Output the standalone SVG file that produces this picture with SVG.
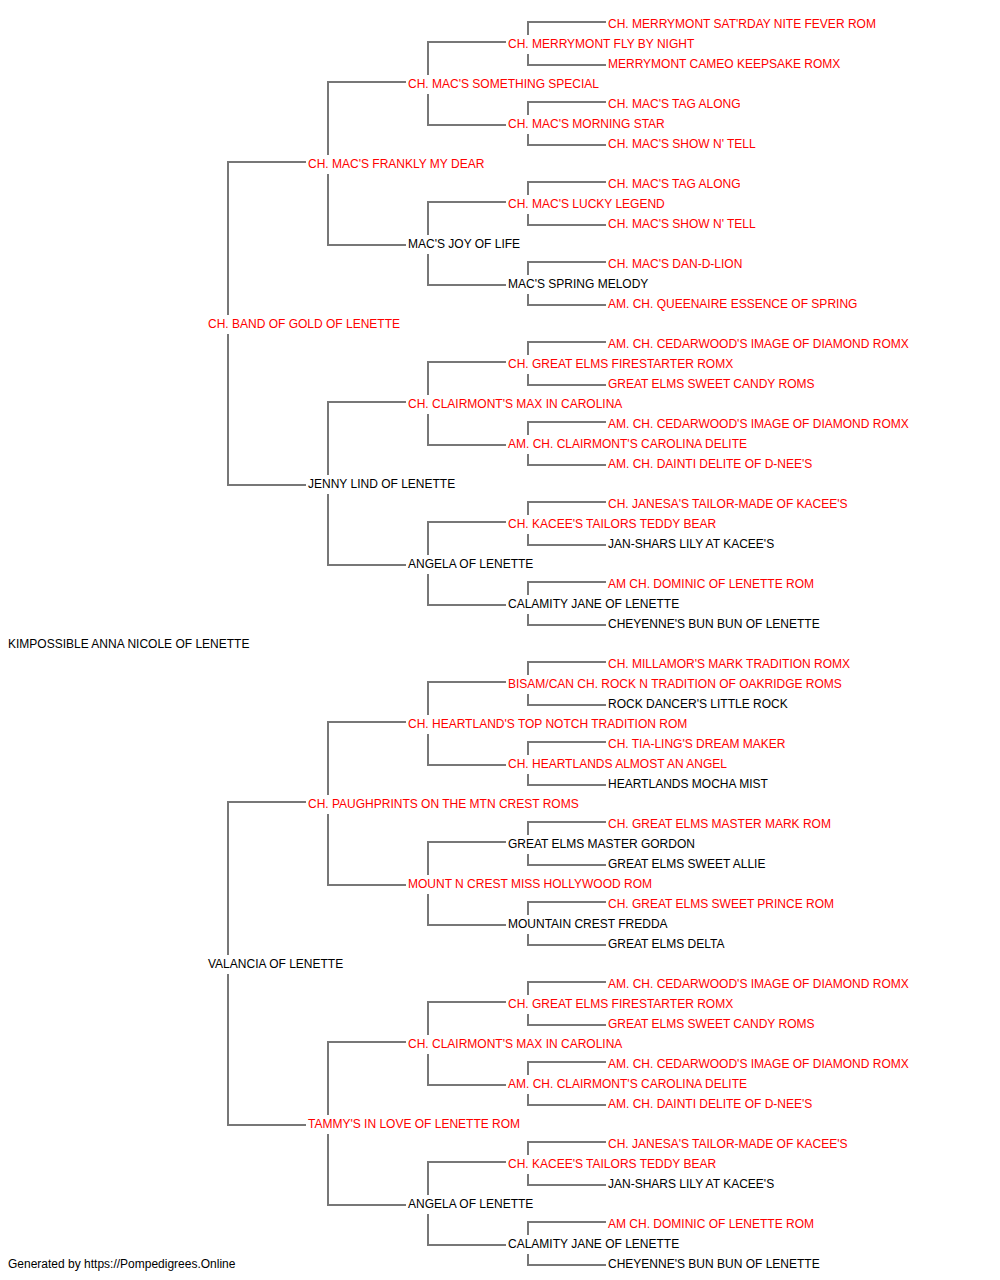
<svg xmlns="http://www.w3.org/2000/svg" width="1000" height="1280" viewBox="0 0 1000 1280">
<style>
text{font-family:"Liberation Sans",Arial,sans-serif;font-size:12px;fill:#000}
text.r{fill:#ff0000}
#connectors path{fill:none;stroke:#777;stroke-width:2}
</style>
<rect width="1000" height="1280" fill="#fff"/>
<g id="connectors">
<path d="M306,162 H228 V315 M228,334 V485 H306"/>
<path d="M306,802 H228 V955 M228,974 V1125 H306"/>
<path d="M406,82 H328 V155 M328,174 V245 H406"/>
<path d="M406,402 H328 V475 M328,494 V565 H406"/>
<path d="M406,722 H328 V795 M328,814 V885 H406"/>
<path d="M406,1042 H328 V1115 M328,1134 V1205 H406"/>
<path d="M506,42 H428 V75 M428,94 V125 H506"/>
<path d="M506,202 H428 V235 M428,254 V285 H506"/>
<path d="M506,362 H428 V395 M428,414 V445 H506"/>
<path d="M506,522 H428 V555 M428,574 V605 H506"/>
<path d="M506,682 H428 V715 M428,734 V765 H506"/>
<path d="M506,842 H428 V875 M428,894 V925 H506"/>
<path d="M506,1002 H428 V1035 M428,1054 V1085 H506"/>
<path d="M506,1162 H428 V1195 M428,1214 V1245 H506"/>
<path d="M606,22 H528 V35 M528,54 V65 H606"/>
<path d="M606,102 H528 V115 M528,134 V145 H606"/>
<path d="M606,182 H528 V195 M528,214 V225 H606"/>
<path d="M606,262 H528 V275 M528,294 V305 H606"/>
<path d="M606,342 H528 V355 M528,374 V385 H606"/>
<path d="M606,422 H528 V435 M528,454 V465 H606"/>
<path d="M606,502 H528 V515 M528,534 V545 H606"/>
<path d="M606,582 H528 V595 M528,614 V625 H606"/>
<path d="M606,662 H528 V675 M528,694 V705 H606"/>
<path d="M606,742 H528 V755 M528,774 V785 H606"/>
<path d="M606,822 H528 V835 M528,854 V865 H606"/>
<path d="M606,902 H528 V915 M528,934 V945 H606"/>
<path d="M606,982 H528 V995 M528,1014 V1025 H606"/>
<path d="M606,1062 H528 V1075 M528,1094 V1105 H606"/>
<path d="M606,1142 H528 V1155 M528,1174 V1185 H606"/>
<path d="M606,1222 H528 V1235 M528,1254 V1265 H606"/>
</g>
<g id="n0"><text x="8" y="648">KIMPOSSIBLE ANNA NICOLE OF LENETTE</text></g>
<g id="n1"><text class="r" x="208" y="328">CH. BAND OF GOLD OF LENETTE</text></g>
<g id="n2"><text x="208" y="968">VALANCIA OF LENETTE</text></g>
<g id="n3"><text class="r" x="308" y="168">CH. MAC'S FRANKLY MY DEAR</text></g>
<g id="n4"><text x="308" y="488">JENNY LIND OF LENETTE</text></g>
<g id="n5"><text class="r" x="308" y="808">CH. PAUGHPRINTS ON THE MTN CREST ROMS</text></g>
<g id="n6"><text class="r" x="308" y="1128">TAMMY'S IN LOVE OF LENETTE ROM</text></g>
<g id="n7"><text class="r" x="408" y="88">CH. MAC'S SOMETHING SPECIAL</text></g>
<g id="n8"><text x="408" y="248">MAC'S JOY OF LIFE</text></g>
<g id="n9"><text class="r" x="408" y="408">CH. CLAIRMONT'S MAX IN CAROLINA</text></g>
<g id="n10"><text x="408" y="568">ANGELA OF LENETTE</text></g>
<g id="n11"><text class="r" x="408" y="728">CH. HEARTLAND'S TOP NOTCH TRADITION ROM</text></g>
<g id="n12"><text class="r" x="408" y="888">MOUNT N CREST MISS HOLLYWOOD ROM</text></g>
<g id="n13"><text class="r" x="408" y="1048">CH. CLAIRMONT'S MAX IN CAROLINA</text></g>
<g id="n14"><text x="408" y="1208">ANGELA OF LENETTE</text></g>
<g id="n15"><text class="r" x="508" y="48">CH. MERRYMONT FLY BY NIGHT</text></g>
<g id="n16"><text class="r" x="508" y="128">CH. MAC'S MORNING STAR</text></g>
<g id="n17"><text class="r" x="508" y="208">CH. MAC'S LUCKY LEGEND</text></g>
<g id="n18"><text x="508" y="288">MAC'S SPRING MELODY</text></g>
<g id="n19"><text class="r" x="508" y="368">CH. GREAT ELMS FIRESTARTER ROMX</text></g>
<g id="n20"><text class="r" x="508" y="448">AM. CH. CLAIRMONT'S CAROLINA DELITE</text></g>
<g id="n21"><text class="r" x="508" y="528">CH. KACEE'S TAILORS TEDDY BEAR</text></g>
<g id="n22"><text x="508" y="608">CALAMITY JANE OF LENETTE</text></g>
<g id="n23"><text class="r" x="508" y="688">BISAM/CAN CH. ROCK N TRADITION OF OAKRIDGE ROMS</text></g>
<g id="n24"><text class="r" x="508" y="768">CH. HEARTLANDS ALMOST AN ANGEL</text></g>
<g id="n25"><text x="508" y="848">GREAT ELMS MASTER GORDON</text></g>
<g id="n26"><text x="508" y="928">MOUNTAIN CREST FREDDA</text></g>
<g id="n27"><text class="r" x="508" y="1008">CH. GREAT ELMS FIRESTARTER ROMX</text></g>
<g id="n28"><text class="r" x="508" y="1088">AM. CH. CLAIRMONT'S CAROLINA DELITE</text></g>
<g id="n29"><text class="r" x="508" y="1168">CH. KACEE'S TAILORS TEDDY BEAR</text></g>
<g id="n30"><text x="508" y="1248">CALAMITY JANE OF LENETTE</text></g>
<g id="n31"><text class="r" x="608" y="28">CH. MERRYMONT SAT'RDAY NITE FEVER ROM</text></g>
<g id="n32"><text class="r" x="608" y="68">MERRYMONT CAMEO KEEPSAKE ROMX</text></g>
<g id="n33"><text class="r" x="608" y="108">CH. MAC'S TAG ALONG</text></g>
<g id="n34"><text class="r" x="608" y="148">CH. MAC'S SHOW N' TELL</text></g>
<g id="n35"><text class="r" x="608" y="188">CH. MAC'S TAG ALONG</text></g>
<g id="n36"><text class="r" x="608" y="228">CH. MAC'S SHOW N' TELL</text></g>
<g id="n37"><text class="r" x="608" y="268">CH. MAC'S DAN-D-LION</text></g>
<g id="n38"><text class="r" x="608" y="308">AM. CH. QUEENAIRE ESSENCE OF SPRING</text></g>
<g id="n39"><text class="r" x="608" y="348">AM. CH. CEDARWOOD'S IMAGE OF DIAMOND ROMX</text></g>
<g id="n40"><text class="r" x="608" y="388">GREAT ELMS SWEET CANDY ROMS</text></g>
<g id="n41"><text class="r" x="608" y="428">AM. CH. CEDARWOOD'S IMAGE OF DIAMOND ROMX</text></g>
<g id="n42"><text class="r" x="608" y="468">AM. CH. DAINTI DELITE OF D-NEE'S</text></g>
<g id="n43"><text class="r" x="608" y="508">CH. JANESA'S TAILOR-MADE OF KACEE'S</text></g>
<g id="n44"><text x="608" y="548">JAN-SHARS LILY AT KACEE'S</text></g>
<g id="n45"><text class="r" x="608" y="588">AM CH. DOMINIC OF LENETTE ROM</text></g>
<g id="n46"><text x="608" y="628">CHEYENNE'S BUN BUN OF LENETTE</text></g>
<g id="n47"><text class="r" x="608" y="668">CH. MILLAMOR'S MARK TRADITION ROMX</text></g>
<g id="n48"><text x="608" y="708">ROCK DANCER'S LITTLE ROCK</text></g>
<g id="n49"><text class="r" x="608" y="748">CH. TIA-LING'S DREAM MAKER</text></g>
<g id="n50"><text x="608" y="788">HEARTLANDS MOCHA MIST</text></g>
<g id="n51"><text class="r" x="608" y="828">CH. GREAT ELMS MASTER MARK ROM</text></g>
<g id="n52"><text x="608" y="868">GREAT ELMS SWEET ALLIE</text></g>
<g id="n53"><text class="r" x="608" y="908">CH. GREAT ELMS SWEET PRINCE ROM</text></g>
<g id="n54"><text x="608" y="948">GREAT ELMS DELTA</text></g>
<g id="n55"><text class="r" x="608" y="988">AM. CH. CEDARWOOD'S IMAGE OF DIAMOND ROMX</text></g>
<g id="n56"><text class="r" x="608" y="1028">GREAT ELMS SWEET CANDY ROMS</text></g>
<g id="n57"><text class="r" x="608" y="1068">AM. CH. CEDARWOOD'S IMAGE OF DIAMOND ROMX</text></g>
<g id="n58"><text class="r" x="608" y="1108">AM. CH. DAINTI DELITE OF D-NEE'S</text></g>
<g id="n59"><text class="r" x="608" y="1148">CH. JANESA'S TAILOR-MADE OF KACEE'S</text></g>
<g id="n60"><text x="608" y="1188">JAN-SHARS LILY AT KACEE'S</text></g>
<g id="n61"><text class="r" x="608" y="1228">AM CH. DOMINIC OF LENETTE ROM</text></g>
<g id="n62"><text x="608" y="1268">CHEYENNE'S BUN BUN OF LENETTE</text></g>
<g id="footer"><text x="8" y="1268">Generated by https://Pompedigrees.Online</text></g>
</svg>
